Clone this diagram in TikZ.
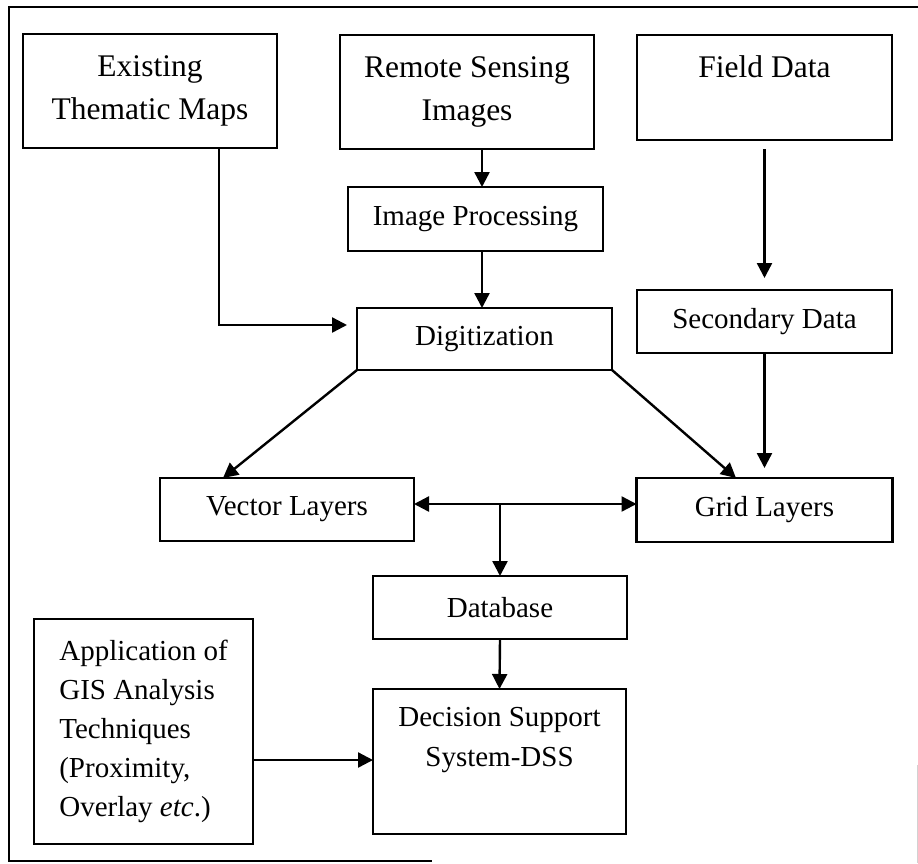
\documentclass[tikz,border=0pt]{standalone}
\usepackage{fontspec}
\setmainfont{Liberation Serif}
\usetikzlibrary{arrows.meta}
\begin{document}
\begin{tikzpicture}[x=1pt,y=-1pt,
  box/.style={draw, line width=2.4pt, inner sep=0pt, outer sep=0pt, align=center,
    font=\fontsize{29}{39}\selectfont},
  topbox/.style={box, font=\fontsize{31.5}{43}\selectfont},
  arr/.style={line width=2.4pt, -{Triangle[length=15pt,width=15pt]}},
  darr/.style={line width=2.4pt, {Triangle[length=15pt,width=15pt]}-{Triangle[length=15pt,width=15pt]}},
  frameline/.style={line width=1.8pt}]
\useasboundingbox (0,0) rectangle (918,863);

% outer frame
\draw[frameline] (918,7) -- (9,7) -- (9,861) -- (432,861);
\draw[gray!35, line width=1pt] (917,765) -- (917,863);

% boxes
\node[topbox, minimum width=254pt, minimum height=114pt] (etm) at (150,91) {Existing\\Thematic Maps};
\node[topbox, minimum width=254pt, minimum height=114pt] (rs) at (467,92) {Remote Sensing\\Images};
\node[topbox, minimum width=255pt, minimum height=105pt,
  label={[anchor=base, yshift=-42pt, font=\fontsize{31.5}{43}\selectfont]north:Field Data}] (fd) at (764.5,87.5) {};
\node[box, minimum width=255pt, minimum height=64pt] (ip) at (475.5,219) {Image Processing};
\node[box, minimum width=255pt, minimum height=62pt] (dig) at (484.5,339) {Digitization};
\node[box, minimum width=255pt, minimum height=63pt] (sec) at (764.5,321.5) {Secondary Data};
\node[box, minimum width=254pt, minimum height=63pt] (vec) at (287,509.5) {Vector Layers};
\node[box, minimum width=256pt, minimum height=64pt] (grid) at (764.5,510) {Grid Layers};
\node[box, minimum width=254pt, minimum height=63pt] (db) at (500,607.5) {Database};
\node[box, minimum width=219pt, minimum height=225pt, align=left] (app) at (143.5,731.5)
  {Application of\\GIS Analysis\\Techniques\\(Proximity,\\Overlay \textit{etc}.)};
\node[box, minimum width=253pt, minimum height=145pt,
  label={[anchor=north, yshift=-18pt, inner sep=0pt, align=center,
    font=\fontsize{29}{40}\selectfont]north:{Decision Support\\System-DSS}}] (dss) at (499.5,761.5) {};

% connectors
\coordinate (colx) at (482,0);
\draw[arr] (rs.south -| colx) -- (ip.north -| colx);
\draw[arr] (ip.south -| colx) -- (dig.north -| colx);
\draw[arr] ([xshift=69pt]etm.south) |- ([xshift=-10pt,yshift=14pt]dig.west);
\draw[arr] ([yshift=-9pt]fd.south) -- ([yshift=12pt]sec.north);
\draw[arr] (sec.south) -- ([yshift=10pt]grid.north);
\draw[arr] (dig.south west) -- ([xshift=-64pt]vec.north);
\draw[arr] (dig.south east) -- ([xshift=-28.5pt]grid.north);
\path ([yshift=5.5pt]vec.east) coordinate (hl);
\draw[darr] (hl) -- (hl -| grid.west);
\draw[arr] (hl -| db.north) -- (db.north);
\draw[arr] (db.south) -- (dss.north);
\path ([yshift=-28.5pt]app.east) coordinate (ap);
\draw[arr] (ap) -- (ap -| dss.west);
\end{tikzpicture}
\end{document}
